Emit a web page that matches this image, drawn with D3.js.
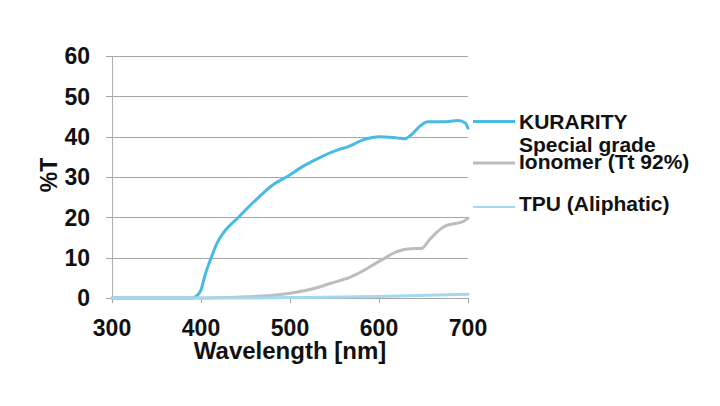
<!DOCTYPE html>
<html><head><meta charset="utf-8">
<script src="https://cdn.jsdelivr.net/npm/d3@7"></script>
<style>
html,body{margin:0;padding:0;background:#fff;}
svg{display:block;font-family:"Liberation Sans",Arial,sans-serif;font-weight:bold;}
</style></head>
<body><svg id="c" width="720" height="406"></svg>
<script>
// ---- data ----
const xTicks = [300, 400, 500, 600, 700];
const yTicks = [0, 10, 20, 30, 40, 50, 60];
const seriesNames = ["KURARITY", "Special grade Ionomer (Tt 92%)", "TPU (Aliphatic)"];
const kurarityWl  = [300, 390, 395, 400, 405, 412, 418, 425, 442, 462, 481, 496, 515, 537, 556, 564, 582, 601, 620, 629, 637, 646, 655, 672, 689, 697, 700];
const kurarityT   = [0,   0,   0.5, 2,   6,   10.3,13.6,16.1,20,  24.4,28.1,30,  32.7,35.2,36.9,37.4,39.2,40,  39.7,39.5,40.6,42.6,43.7,43.7,44,  43.4,42.1];
const ionomerWl   = [300, 400, 440, 470, 500, 534, 545, 567, 575, 601, 609, 616, 635, 648, 657, 668, 676, 684, 695, 700];
const ionomerT    = [0,   0,   0.2, 0.5, 1.2, 2.8, 3.6, 5.1, 5.9, 9.2, 10.2,11.1,12.2,12.3,14.5,16.9,18,  18.4,19,  19.8];
const tpuWl       = [300, 450, 500, 600, 700];
const tpuT        = [0,   0,   0.1, 0.4, 0.9];

const svg = d3.select("#c");
const x = d3.scaleLinear().domain([300, 700]).range([112, 468]);
const y = d3.scaleLinear().domain([0, 60]).range([298, 56]);

// grid lines
svg.append("g").selectAll("line").data(yTicks).join("line")
  .attr("x1", 106).attr("x2", x(700))
  .attr("y1", d => Math.round(y(d)) + 0.5).attr("y2", d => Math.round(y(d)) + 0.5)
  .attr("stroke", "#a6a6a6").attr("stroke-width", 1);

// y axis line
svg.append("line").attr("x1", 112.5).attr("x2", 112.5).attr("y1", y(60)).attr("y2", 303)
  .attr("stroke", "#b0b0b0").attr("stroke-width", 1);
// x ticks
svg.append("g").selectAll("line").data(xTicks).join("line")
  .attr("x1", d => Math.round(x(d)) + 0.5).attr("x2", d => Math.round(x(d)) + 0.5)
  .attr("y1", 298).attr("y2", 303)
  .attr("stroke", "#a6a6a6").attr("stroke-width", 1);

// tick labels
svg.append("g").selectAll("text").data(yTicks).join("text")
  .attr("x", 90).attr("y", d => y(d)).attr("dy", "0.36em")
  .attr("text-anchor", "end").attr("font-size", 23).attr("fill", "#111")
  .text(d => d);
svg.append("g").selectAll("text").data(xTicks).join("text")
  .attr("x", d => x(d)).attr("y", 336)
  .attr("text-anchor", "middle").attr("font-size", 23).attr("fill", "#111")
  .text(d => d);

// axis titles
svg.append("text").attr("x", 290).attr("y", 359).attr("text-anchor", "middle")
  .attr("font-size", 24).attr("fill", "#111").text("Wavelength [nm]");
svg.append("text").attr("transform", "translate(57,175) rotate(-90)")
  .attr("text-anchor", "middle").attr("font-size", 23).attr("fill", "#111").text("%T");

// lines
const line = d3.line().x(d => x(d[0])).y(d => y(d[1])).curve(d3.curveMonotoneX);
const series = [
  {wl: kurarityWl, t: kurarityT, color: "#47bbe3", w: 3},
  {wl: ionomerWl, t: ionomerT, color: "#bdbdbd", w: 3},
  {wl: tpuWl, t: tpuT, color: "#a3d8ef", w: 3}
];
series.forEach(s => {
  svg.append("path").datum(s.wl.map((w, i) => [w, s.t[i]]))
    .attr("d", line).attr("fill", "none")
    .attr("stroke", s.color).attr("stroke-width", s.w)
    .attr("stroke-linejoin", "round").attr("stroke-linecap", "round");
});

// legend
const lg = svg.append("g");
const legY = [121.5, 163, 207];
const legW = [3, 3, 2];
series.forEach((s, i) => {
  lg.append("line").attr("x1", 473).attr("x2", 515).attr("y1", legY[i]).attr("y2", legY[i])
    .attr("stroke", s.color).attr("stroke-width", legW[i]);
});
lg.append("text").attr("x", 519).attr("y", 129).attr("font-size", 21).attr("fill", "#111").text(seriesNames[0]);
const ion = seriesNames[1].split(" Ionomer");
lg.append("text").attr("x", 519).attr("y", 152).attr("font-size", 21).attr("fill", "#111").text(ion[0]);
lg.append("text").attr("x", 519).attr("y", 169).attr("font-size", 21).attr("fill", "#111").text("Ionomer" + ion[1]);
lg.append("text").attr("x", 519).attr("y", 211).attr("font-size", 21).attr("fill", "#111").text(seriesNames[2]);
</script>
</body></html>
